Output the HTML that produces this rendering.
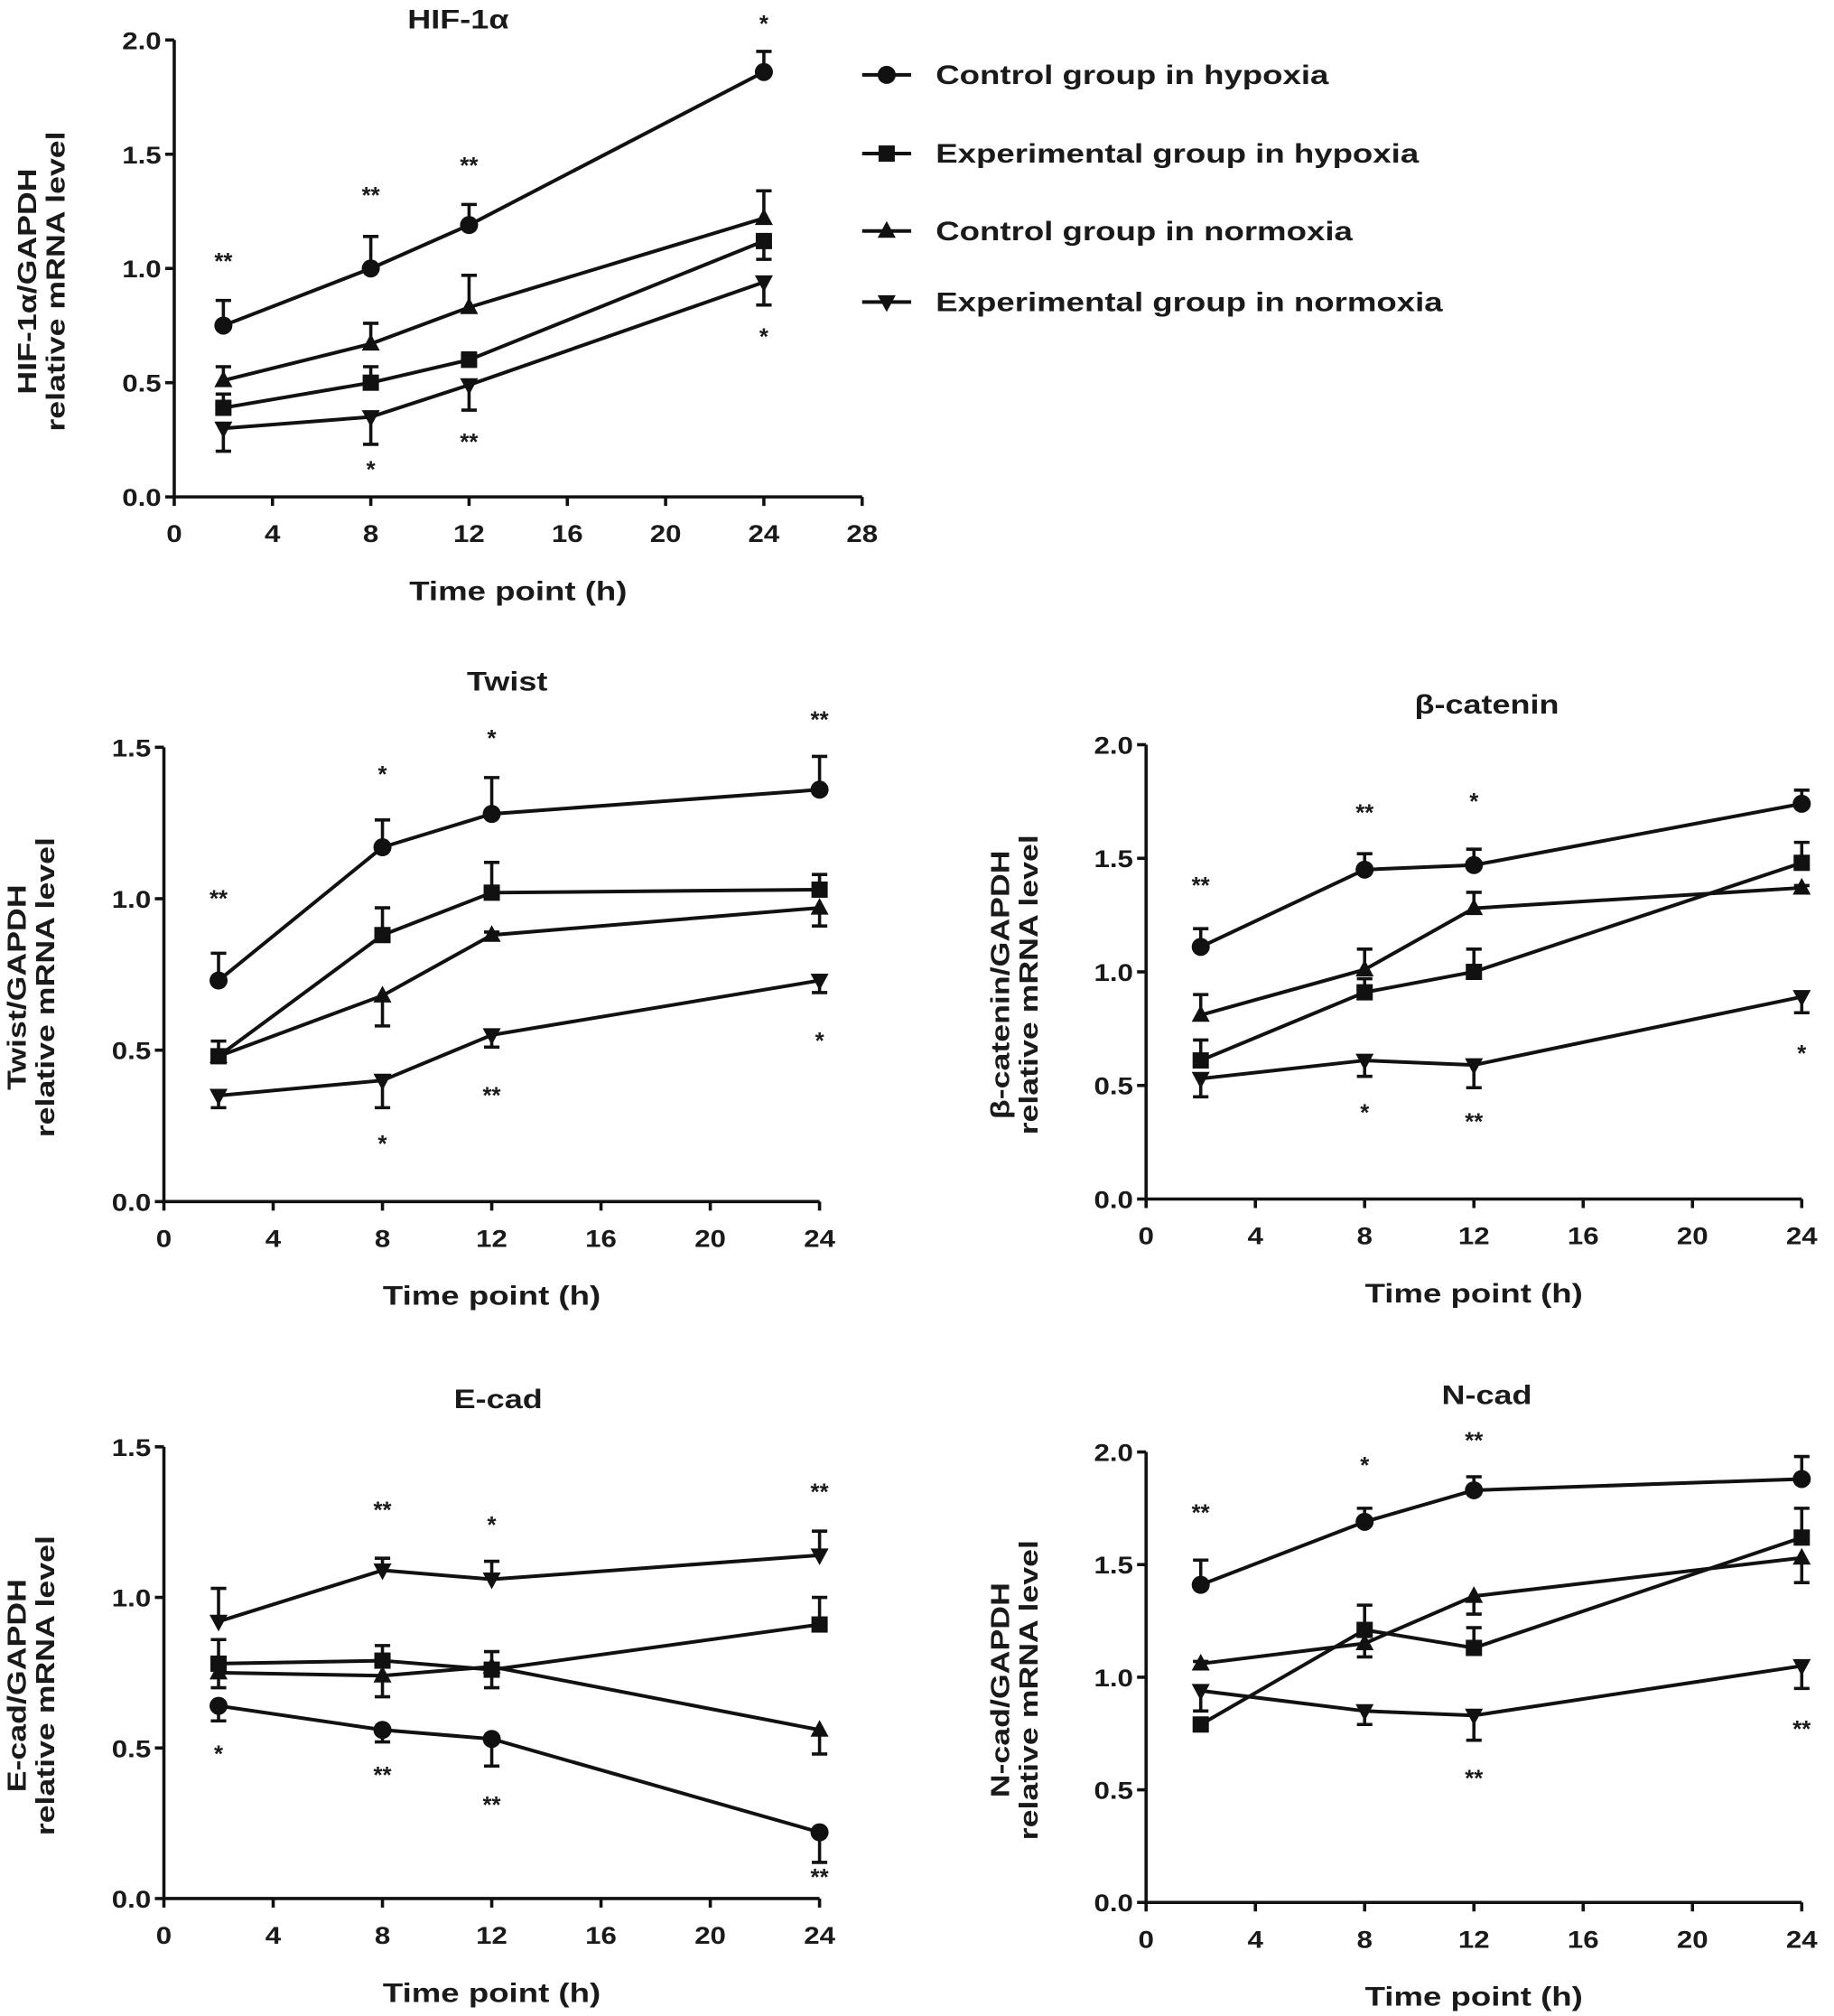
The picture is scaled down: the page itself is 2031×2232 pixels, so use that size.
<!DOCTYPE html>
<html><head><meta charset="utf-8">
<style>
html,body{margin:0;padding:0;background:#fff;}
svg{display:block;}
text{font-family:"Liberation Sans",Arial,sans-serif;font-weight:bold;fill:#1a1a1a;}
</style></head>
<body>
<svg id="fig" width="2031" height="2232" viewBox="0 0 1421 1562" preserveAspectRatio="none" xmlns="http://www.w3.org/2000/svg">
<g id="legend"></g>
</svg>
<script>
const xVals = [2, 8, 12, 24];
const seriesNames = ["Control group in hypoxia","Experimental group in hypoxia","Control group in normoxia","Experimental group in normoxia"];
const markers = ["circle","square","triangle","invtri"];

// HIF-1a
const hifCircle = [0.75,1.00,1.19,1.86];      const hifCircleErr = [0.11,0.14,0.09,0.09];
const hifSquare = [0.39,0.50,0.60,1.12];      const hifSquareErr = [0.06,0.07,0.03,-0.08];
const hifTri = [0.51,0.67,0.83,1.22];         const hifTriErr = [0.06,0.09,0.14,0.12];
const hifInv = [0.30,0.35,0.49,0.94];         const hifInvErr = [-0.10,-0.12,-0.11,-0.10];
const hifStars = [[2,1.03,"**"],[8,1.32,"**"],[12,1.45,"**"],[24,2.07,"*"],[24,0.70,"*"],[8,0.12,"*"],[12,0.24,"**"]];
// Twist
const twCircle = [0.73,1.17,1.28,1.36];       const twCircleErr = [0.09,0.09,0.12,0.11];
const twSquare = [0.48,0.88,1.02,1.03];       const twSquareErr = [0.05,0.09,0.10,0.05];
const twTri = [0.48,0.68,0.88,0.97];          const twTriErr = [0.02,-0.10,0.01,-0.06];
const twInv = [0.35,0.40,0.55,0.73];          const twInvErr = [-0.04,-0.09,-0.04,-0.04];
const twStars = [[2,1.00,"**"],[8,1.41,"*"],[12,1.53,"*"],[24,1.59,"**"],[24,0.53,"*"],[12,0.35,"**"],[8,0.19,"*"]];
// beta-catenin
const bcCircle = [1.11,1.45,1.47,1.74];       const bcCircleErr = [0.08,0.07,0.07,0.06];
const bcSquare = [0.61,0.91,1.00,1.48];       const bcSquareErr = [0.09,0.06,0.10,0.09];
const bcTri = [0.81,1.01,1.28,1.37];          const bcTriErr = [0.09,0.09,0.07,0.01];
const bcInv = [0.53,0.61,0.59,0.89];          const bcInvErr = [-0.08,-0.07,-0.10,-0.07];
const bcStars = [[2,1.38,"**"],[8,1.70,"**"],[12,1.75,"*"],[8,0.38,"*"],[12,0.34,"**"],[24,0.64,"*"]];
// E-cad
const ecCircle = [0.64,0.56,0.53,0.22];       const ecCircleErr = [-0.05,-0.04,-0.09,-0.10];
const ecSquare = [0.78,0.79,0.76,0.91];       const ecSquareErr = [0.08,0.05,0.06,0.09];
const ecTri = [0.75,0.74,0.77,0.56];          const ecTriErr = [-0.05,-0.07,-0.07,-0.08];
const ecInv = [0.92,1.09,1.06,1.14];          const ecInvErr = [0.11,0.04,0.06,0.08];
const ecStars = [[2,0.48,"*"],[8,1.29,"**"],[12,1.24,"*"],[24,1.35,"**"],[8,0.41,"**"],[12,0.31,"**"],[24,0.07,"**"]];
// N-cad
const ncCircle = [1.41,1.69,1.83,1.88];       const ncCircleErr = [0.11,0.06,0.06,0.10];
const ncSquare = [0.79,1.21,1.13,1.62];       const ncSquareErr = [0.01,0.11,0.09,0.13];
const ncTri = [1.06,1.15,1.36,1.53];          const ncTriErr = [0.01,-0.06,-0.08,-0.11];
const ncInv = [0.94,0.85,0.83,1.05];          const ncInvErr = [-0.09,-0.06,-0.11,-0.10];
const ncStars = [[2,1.73,"**"],[8,1.94,"*"],[12,2.05,"**"],[12,0.55,"**"],[24,0.77,"**"]];

const hifTicksX = [0,4,8,12,16,20,24,28];
const stdTicksX = [0,4,8,12,16,20,24];
const ticks2 = [0,0.5,1.0,1.5,2.0];
const ticks15 = [0,0.5,1.0,1.5];

const NS = "http://www.w3.org/2000/svg";
const svg = document.getElementById("fig");
function mk(tag, attrs, parent){const e=document.createElementNS(NS,tag);for(const k in attrs)e.setAttribute(k,attrs[k]);(parent||svg).appendChild(e);return e;}
function stretch(t, f){
  const L = t.getComputedTextLength();
  if(L>0){t.setAttribute("textLength", (L*f).toFixed(1));t.setAttribute("lengthAdjust","spacingAndGlyphs");}
}

function marker(g, type, cx, cy, r){
  let e;
  if(type==="circle") e=mk("circle",{cx:cx,cy:cy,r:r,fill:"#111"},g);
  else if(type==="square") e=mk("rect",{x:cx-r*0.9,y:cy-r*0.9,width:r*1.8,height:r*1.8,fill:"#111"},g);
  else if(type==="triangle") e=mk("polygon",{points:`${cx},${cy-r*1.1} ${cx-r},${cy+r*0.75} ${cx+r},${cy+r*0.75}`,fill:"#111"},g);
  else e=mk("polygon",{points:`${cx},${cy+r*1.1} ${cx-r},${cy-r*0.75} ${cx+r},${cy-r*0.75}`,fill:"#111"},g);
  return e;
}

function chart(cfg){
  const g = mk("g",{});
  
  
  const xs = v => cfg.x0 + (v/cfg.xmax)*(cfg.x1-cfg.x0);
  const ys = v => cfg.y0 - (v/cfg.ymax)*(cfg.y0-cfg.y1);
  mk("line",{x1:cfg.x0,y1:cfg.y1,x2:cfg.x0,y2:cfg.y0,stroke:"#111","stroke-width":2.5},g);
  mk("line",{x1:cfg.x0,y1:cfg.y0,x2:cfg.x1,y2:cfg.y0,stroke:"#111","stroke-width":2.5},g);
  cfg.yt.forEach(v=>{
    mk("line",{x1:cfg.x0-7,y1:ys(v),x2:cfg.x0,y2:ys(v),stroke:"#111","stroke-width":2.5},g);
    const t=mk("text",{x:cfg.x0-10,y:ys(v)+7,"text-anchor":"end","font-size":19},g);t.textContent=v.toFixed(1);
    
    
    stretch(t,1.15);
  });
  cfg.xt.forEach(v=>{
    mk("line",{x1:xs(v),y1:cfg.y0,x2:xs(v),y2:cfg.y0+7,stroke:"#111","stroke-width":2.5},g);
    const t=mk("text",{x:xs(v),y:cfg.y0+35,"text-anchor":"middle","font-size":19},g);t.textContent=v;
    
    
    stretch(t,1.15);
  });
  const tt=mk("text",{x:cfg.tx,y:cfg.ty,"text-anchor":"middle","font-size":21},g);tt.textContent=cfg.title;
  
  
  stretch(tt,1.2);
  const xl=mk("text",{x:(cfg.x0+cfg.x1)/2,y:cfg.y0+80,"text-anchor":"middle","font-size":21},g);xl.textContent="Time point (h)";
  
  
  stretch(xl,1.22);
  const cy=(cfg.y0+cfg.y1)/2+10;
  [[cfg.ylx,cfg.yl1],[cfg.ylx+22,"relative mRNA level"]].forEach(([x,s])=>{
    const t=mk("text",{x:x,y:cy,"text-anchor":"middle","font-size":20,transform:`rotate(-90 ${x} ${cy})`},g);t.textContent=s;
    
    
    stretch(t,1.25);
  });
  cfg.series.forEach((s,si)=>{
    const sg=mk("g",{},g);
    
    
    const pts=xVals.map((x,i)=>`${xs(x)},${ys(s[0][i])}`).join(" ");
    mk("polyline",{points:pts,fill:"none",stroke:"#111","stroke-width":2.8},sg);
    xVals.forEach((x,i)=>{
      const v=s[0][i], e=s[1][i], yy=ys(v+e);
      mk("line",{x1:xs(x),y1:ys(v),x2:xs(x),y2:yy,stroke:"#111","stroke-width":2.5},sg);
      mk("line",{x1:xs(x)-6,y1:yy,x2:xs(x)+6,y2:yy,stroke:"#111","stroke-width":2.5},sg);
      const m=marker(sg,markers[si],xs(x),ys(v),7);
      
      
    });
  });
  cfg.stars.forEach(([x,v,s])=>{
    const t=mk("text",{x:xs(x),y:ys(v)+6,"text-anchor":"middle","font-size":18},g);t.textContent=s;
    
    
  });
}

chart({name:"hif",title:"HIF-1\u03B1",tx:355,ty:22,x0:135,x1:668,xmax:28,y0:385,y1:31,ymax:2,xt:hifTicksX,yt:ticks2,ylx:28,yl1:"HIF-1\u03B1/GAPDH",
  series:[[hifCircle,hifCircleErr],[hifSquare,hifSquareErr],[hifTri,hifTriErr],[hifInv,hifInvErr]],stars:hifStars});
chart({name:"twist",title:"Twist",tx:393,ty:535,x0:127,x1:635,xmax:24,y0:931,y1:579,ymax:1.5,xt:stdTicksX,yt:ticks15,ylx:20,yl1:"Twist/GAPDH",
  series:[[twCircle,twCircleErr],[twSquare,twSquareErr],[twTri,twTriErr],[twInv,twInvErr]],stars:twStars});
chart({name:"beta-catenin",title:"\u03B2-catenin",tx:1152,ty:553,x0:888,x1:1396,xmax:24,y0:929,y1:577,ymax:2,xt:stdTicksX,yt:ticks2,ylx:782,yl1:"\u03B2-catenin/GAPDH",
  series:[[bcCircle,bcCircleErr],[bcSquare,bcSquareErr],[bcTri,bcTriErr],[bcInv,bcInvErr]],stars:bcStars});
chart({name:"e-cad",title:"E-cad",tx:386,ty:1091,x0:127,x1:635,xmax:24,y0:1471,y1:1121,ymax:1.5,xt:stdTicksX,yt:ticks15,ylx:20,yl1:"E-cad/GAPDH",
  series:[[ecCircle,ecCircleErr],[ecSquare,ecSquareErr],[ecTri,ecTriErr],[ecInv,ecInvErr]],stars:ecStars});
chart({name:"n-cad",title:"N-cad",tx:1152,ty:1088,x0:888,x1:1396,xmax:24,y0:1474,y1:1125,ymax:2,xt:stdTicksX,yt:ticks2,ylx:782,yl1:"N-cad/GAPDH",
  series:[[ncCircle,ncCircleErr],[ncSquare,ncSquareErr],[ncTri,ncTriErr],[ncInv,ncInvErr]],stars:ncStars});

const lg=document.getElementById("legend");
const legY=[58,119,179,234];
seriesNames.forEach((n,i)=>{
  const eg=mk("g",{},lg);
  
  
  mk("line",{x1:668,y1:legY[i],x2:706,y2:legY[i],stroke:"#111","stroke-width":2.8},eg);
  marker(eg,markers[i],687,legY[i],7);
  const t=mk("text",{x:725,y:legY[i]+7,"font-size":21},eg);t.textContent=n;
  stretch(t,1.22);
});
</script>
</body></html>
